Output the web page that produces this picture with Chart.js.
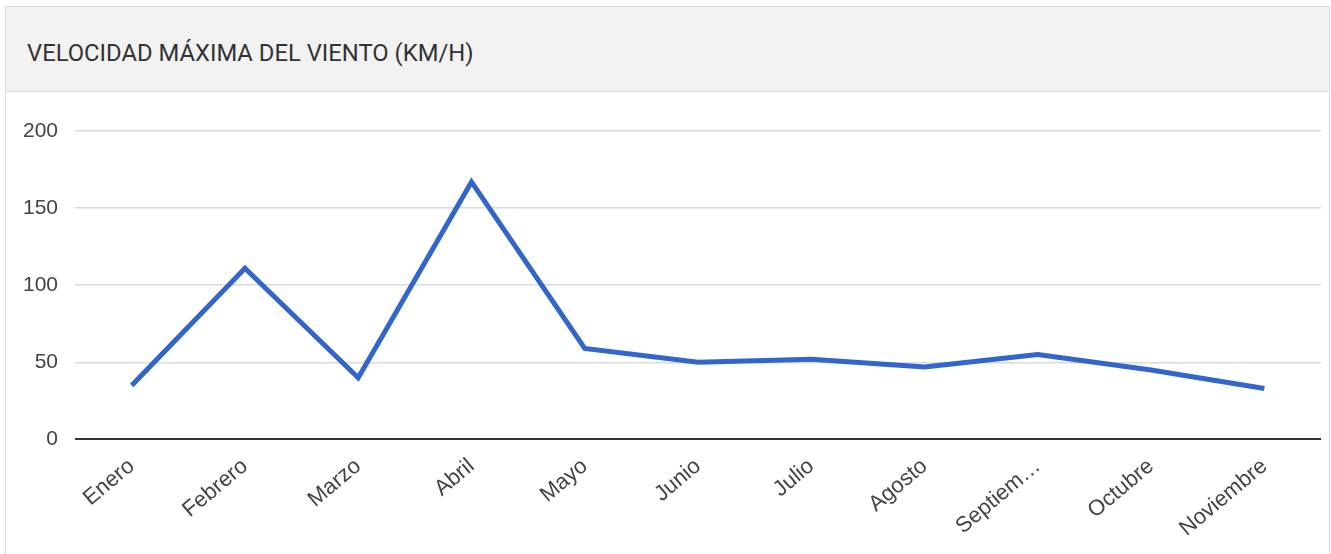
<!DOCTYPE html>
<html>
<head>
<meta charset="utf-8">
<script src="https://cdn.jsdelivr.net/npm/chart.js@4/dist/chart.umd.min.js"></script>
<style>
  html, body { margin: 0; padding: 0; background: #fff; width: 1331px; height: 554px; overflow: hidden; }
  .card { position: absolute; left: 5px; top: 6px; width: 1323px; height: 600px; border: 1px solid #dcdcdc; background: #fff; }
  .card-header { height: 85px; background: #f2f2f2; border-bottom: 1px solid #dcdcdc; box-sizing: border-box; padding-left: 21px; padding-top: 4px; line-height: 84px; font-family: Roboto, sans-serif; font-size: 23.8px; color: #333; }
  .chart-box { position: relative; width: 1323px; height: 462px; }
</style>
</head>
<body>
<div class="card">
  <div class="card-header">VELOCIDAD MÁXIMA DEL VIENTO (KM/H)</div>
  <div class="chart-box"><canvas id="chart"></canvas></div>
</div>
<script>
const months = ["Enero", "Febrero", "Marzo", "Abril", "Mayo", "Junio", "Julio", "Agosto", "Septiembre", "Octubre", "Noviembre"];
const windMax = [35, 111, 40, 167, 59, 50, 52, 47, 55, 45, 33];
const yTicks = [0, 50, 100, 150, 200];

document.addEventListener("DOMContentLoaded", function () {
  const ctx = document.getElementById('chart').getContext('2d');

  const config = {
    type: 'line',
    data: {
      labels: months,
      datasets: [{
        label: 'Velocidad máxima',
        data: windMax,
        fill: false,
        borderColor: '#3366cc',
        borderWidth: 5,
        tension: 0,
        pointRadius: 0
      }]
    },
    options: {
      responsive: true,
      maintainAspectRatio: false,
      animation: false,
      layout: { padding: { top: 39, left: 0, right: 8, bottom: 6 } },
      scales: {
        y: {
          min: 0,
          max: 200,
          afterBuildTicks: axis => { axis.ticks = yTicks.map(v => ({ value: v })); },
          border: { display: false },
          grid: {
            drawTicks: false,
            color: c => c.tick.value === 0 ? '#333' : '#dadada',
            lineWidth: c => c.tick.value === 0 ? 2 : 1.5
          },
          ticks: {
            padding: 17,
            color: '#444',
            font: { family: 'Liberation Sans, Arial', size: 21 }
          }
        },
        x: {
          offset: true,
          border: { display: false },
          grid: { display: false },
          ticks: {
            autoSkip: false,
            maxRotation: 40,
            minRotation: 40,
            padding: 6,
            color: '#444',
            font: { family: 'Liberation Sans, Arial', size: 22 },
            callback: function (val) {
              const t = this.getLabelForValue(val);
              return t.length > 9 ? t.slice(0, 7) + '…' : t;
            }
          }
        }
      },
      plugins: {
        legend: { display: false },
        tooltip: { enabled: false }
      }
    }
  };

  new Chart(ctx, config);
});
</script>
</body>
</html>
